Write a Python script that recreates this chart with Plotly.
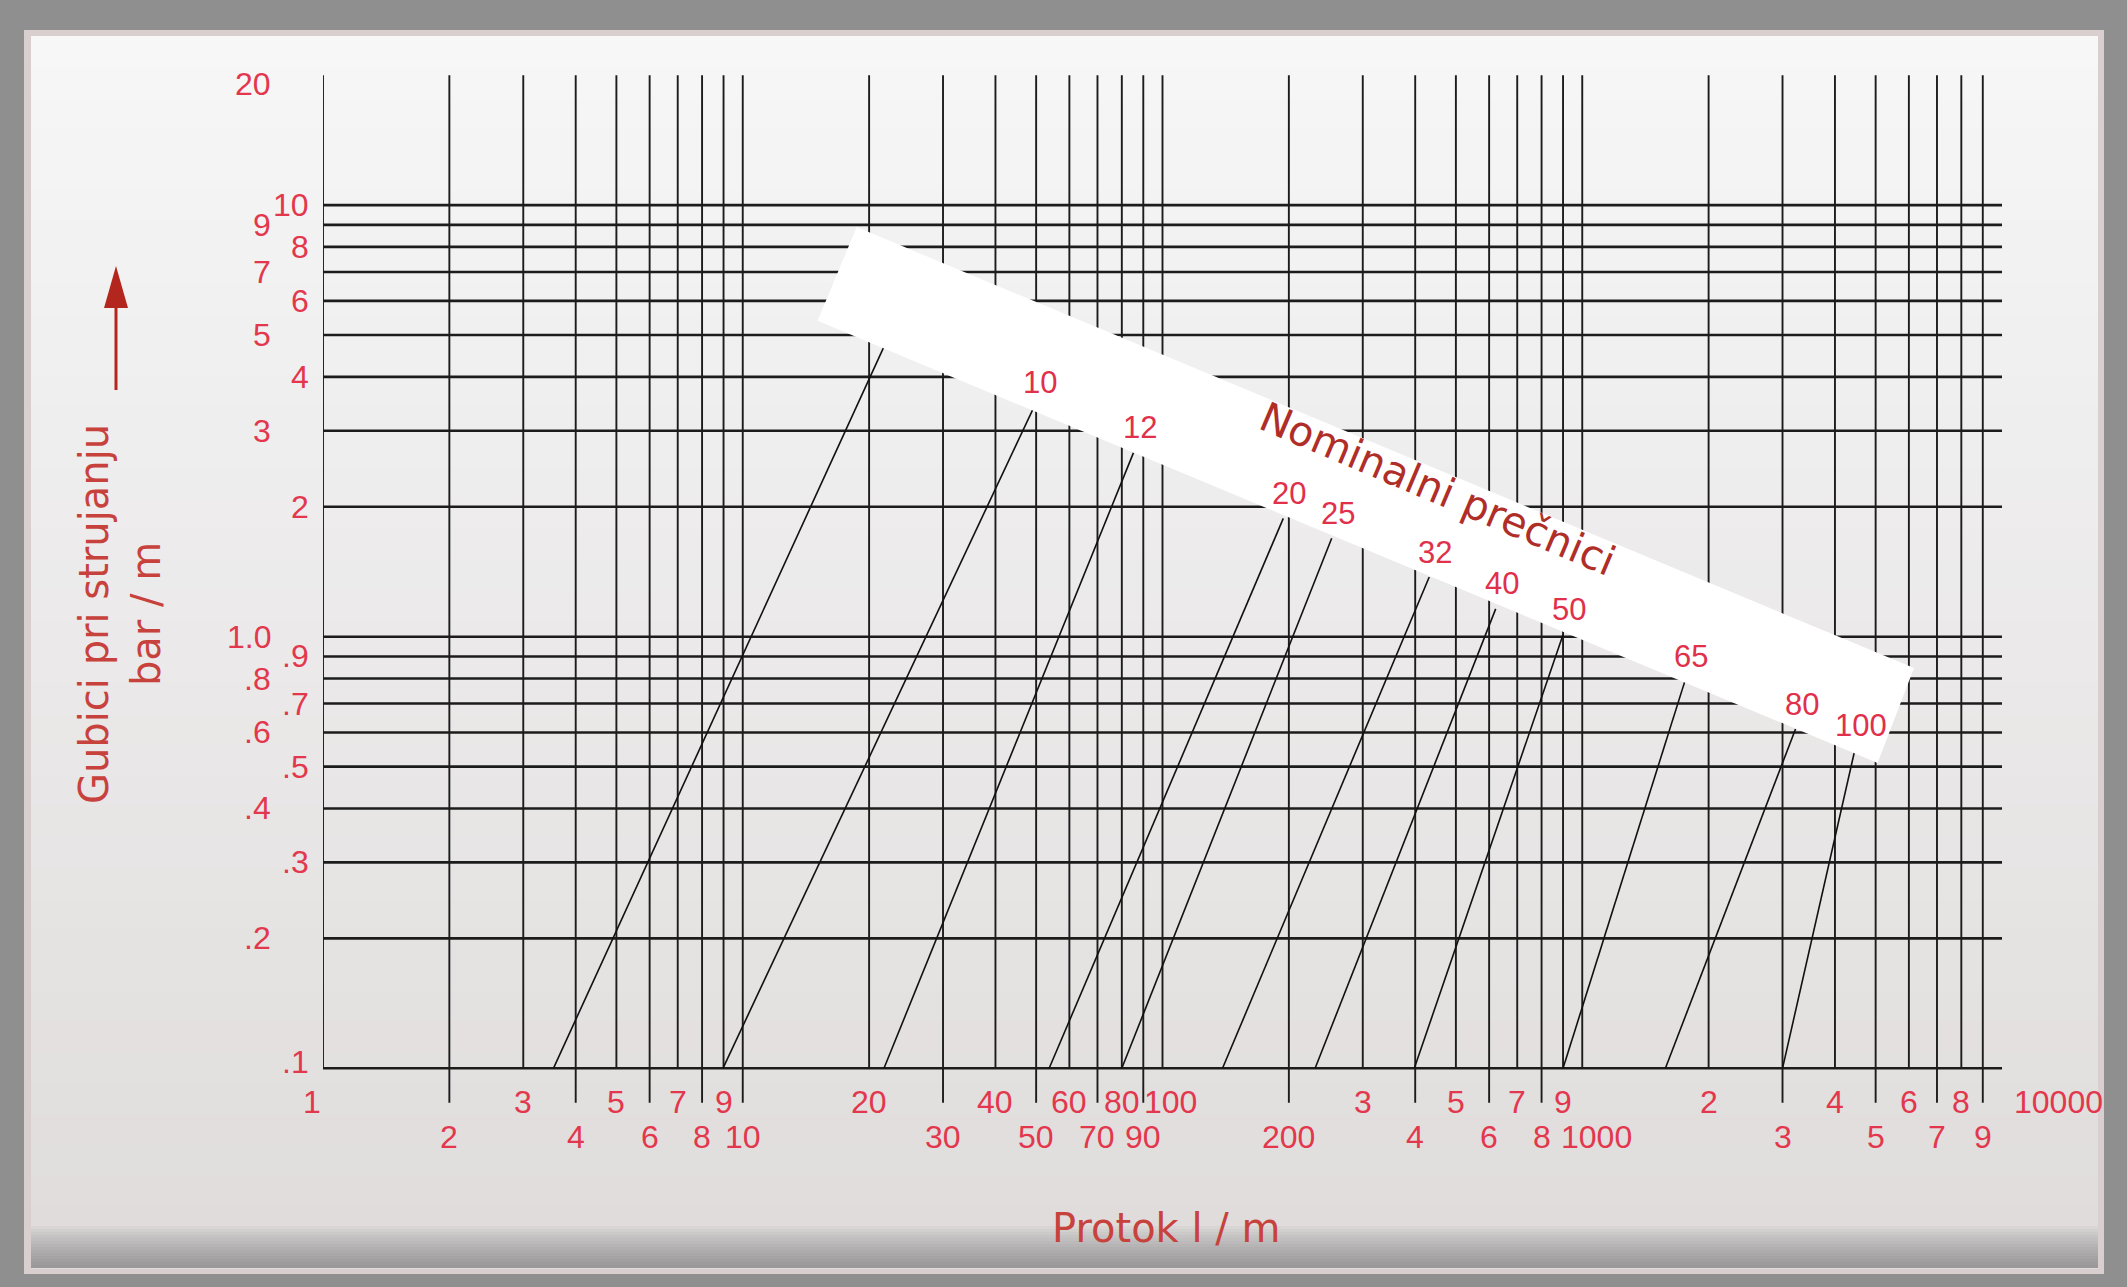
import numpy as np
import plotly.graph_objects as go

# ---------------- data ----------------
X_GRID = [1, 2, 3, 4, 5, 6, 7, 8, 9,
          10, 20, 30, 40, 50, 60, 70, 80, 90,
          100, 200, 300, 400, 500, 600, 700, 800, 900,
          1000, 2000, 3000, 4000, 5000, 6000, 7000, 8000, 9000]
Y_GRID = [0.1, 0.2, 0.3, 0.4, 0.5, 0.6, 0.7, 0.8, 0.9,
          1, 2, 3, 4, 5, 6, 7, 8, 9, 10]
X_TICK_EXTENDED = [2, 4, 6, 8, 10, 30, 50, 70, 90, 200, 400, 600, 800,
                   3000, 5000, 7000, 9000]

X_LABEL_VALUES = [1, 2, 3, 4, 5, 6, 7, 8, 9, 10, 20, 30, 40, 50, 60, 70, 80, 90,
                  100, 200, 300, 400, 500, 600, 700, 800, 900, 1000,
                  2000, 3000, 4000, 5000, 6000, 7000, 8000, 9000, 10000]
X_LABEL_TEXT = ["1", "2", "3", "4", "5", "6", "7", "8", "9", "10",
                "20", "30", "40", "50", "60", "70", "80", "90", "100",
                "200", "3", "4", "5", "6", "7", "8", "9", "1000",
                "2", "3", "4", "5", "6", "7", "8", "9", "10000"]

Y_LABEL_VALUES = [0.1, 0.2, 0.3, 0.4, 0.5, 0.6, 0.7, 0.8, 0.9,
                  1, 2, 3, 4, 5, 6, 7, 8, 9, 10, 20]
Y_LABEL_TEXT = [".1", ".2", ".3", ".4", ".5", ".6", ".7", ".8", ".9",
                "1.0", "2", "3", "4", "5", "6", "7", "8", "9", "10", "20"]

# nominal diameter lines (flow l/m vs loss bar/m)
DN_LABELS = ["", "10", "12", "20", "25", "32", "40", "50", "65", "80", "100"]
FLOW_START = [3.54, 8.97, 21.7, 53.7, 80, 139, 231, 398, 900, 1578, 3000]
LOSS_START = [0.1, 0.1, 0.1, 0.1, 0.1, 0.1, 0.1, 0.1, 0.1, 0.1, 0.1]
FLOW_END = [21.7, 49.3, 85.3, 194, 253, 432, 622, 900, 1756, 3222, 4458]
LOSS_END = [4.70, 3.39, 2.67, 1.88, 1.69, 1.375, 1.16, 1.01, 0.789, 0.611, 0.545]

# ---------------- layout geometry ----------------
W, H = 2127, 1287
ML, MR, MT, MB = 323, 125, 73, 182
PW, PH = W - ML - MR, H - MT - MB
X_RANGE = [0, 4]
Y_RANGE = [-1.085, 1.306]
Y_TICK_END = 10 ** (-1.08)


def pxx(x):
    return (x - ML) / PW


def pxy(y):
    return (H - MB - y) / PH


TICK_FONT = dict(family="Liberation Sans, Arial, sans-serif", size=32, color="#e3374d")
TITLE_FONT = dict(family="DejaVu Sans, Verdana, sans-serif", size=40, color="#c8423d")
GRID_COLOR = "#1c1c1c"

fig = go.Figure()

# vertical grid lines
vx, vy = [], []
for xv in X_GRID:
    y0 = Y_TICK_END if xv in X_TICK_EXTENDED else Y_GRID[0]
    vx += [xv, xv, None]
    vy += [y0, Y_LABEL_VALUES[-1], None]
fig.add_trace(go.Scatter(x=vx, y=vy, mode="lines",
                         line=dict(color=GRID_COLOR, width=1.9),
                         hoverinfo="skip", showlegend=False))

# horizontal grid lines
hx, hy = [], []
for yv in Y_GRID:
    hx += [X_GRID[0], X_LABEL_VALUES[-1], None]
    hy += [yv, yv, None]
fig.add_trace(go.Scatter(x=hx, y=hy, mode="lines",
                         line=dict(color=GRID_COLOR, width=2.6),
                         hoverinfo="skip", showlegend=False))

# diameter lines
for lab, x0, y0, x1, y1 in zip(DN_LABELS, FLOW_START, LOSS_START, FLOW_END, LOSS_END):
    fig.add_trace(go.Scatter(x=[x0, x1], y=[y0, y1], mode="lines",
                             name=("DN " + lab) if lab else "DN",
                             line=dict(color="#111111", width=1.6),
                             showlegend=False))

annotations = []

# x tick labels (two staggered rows)
X_SHIFT = {1: -11, 100: 8, 1000: 14, 10000: 56}
for i, (v, t) in enumerate(zip(X_LABEL_VALUES, X_LABEL_TEXT)):
    row = i % 2
    annotations.append(dict(x=np.log10(v), xref="x", y=pxy(1102 if row == 0 else 1137),
                            yref="paper", text=t, showarrow=False, xanchor="center",
                            yanchor="middle", xshift=X_SHIFT.get(v, 0), font=TICK_FONT))

# y tick labels (two staggered columns)
for i, (v, t) in enumerate(zip(Y_LABEL_VALUES, Y_LABEL_TEXT)):
    col = i % 2
    ys = 0
    if i == 0:
        ys = 6
    if i == len(Y_LABEL_VALUES) - 1:
        ys = -9
    annotations.append(dict(x=0, xref="paper", y=np.log10(v), yref="y", text=t,
                            showarrow=False, xanchor="right", yanchor="middle",
                            xshift=-12 if col == 0 else -50, yshift=ys, font=TICK_FONT))

# diameter labels on the band
for lab, x1, y1 in zip(DN_LABELS, FLOW_END, LOSS_END):
    if lab:
        annotations.append(dict(x=np.log10(x1), y=np.log10(y1), xref="x", yref="y",
                                text=lab, showarrow=False, xanchor="center",
                                yanchor="middle", xshift=6, yshift=25,
                                font=dict(family=TICK_FONT["family"], size=31,
                                          color="#e0304a")))

annotations.append(dict(x=pxx(1437), y=pxy(489), xref="paper", yref="paper",
                        text="Nominalni prečnici", showarrow=False, textangle=23,
                        xanchor="center", yanchor="middle",
                        font=dict(family="DejaVu Sans, Verdana, sans-serif", size=41,
                                  color="#b02e28")))

annotations.append(dict(x=pxx(1166), y=pxy(1228), xref="paper", yref="paper",
                        text="Protok l / m", showarrow=False, xanchor="center",
                        yanchor="middle", font=TITLE_FONT))
annotations.append(dict(x=pxx(120), y=pxy(614), xref="paper", yref="paper",
                        text="Gubici pri strujanju<br>bar / m", showarrow=False,
                        textangle=-90, xanchor="center", yanchor="middle",
                        font=TITLE_FONT))

shapes = []
# background panel with gentle vertical gradient
shapes.append(dict(type="rect", xref="paper", yref="paper",
                   x0=pxx(24), x1=pxx(2104), y0=pxy(30), y1=pxy(1274),
                   fillcolor="#d9cfcf", line=dict(width=0), layer="below"))
n_bands = 40
top_c = np.array([247, 247, 247])
bot_c = np.array([224, 220, 220])
y_top, y_bot = 36, 1268
for k in range(n_bands):
    f = k / (n_bands - 1)
    c = (top_c * (1 - f) + bot_c * f).astype(int)
    ya = y_top + (y_bot - y_top) * k / n_bands
    yb = y_top + (y_bot - y_top) * (k + 1) / n_bands + 1
    shapes.append(dict(type="rect", xref="paper", yref="paper",
                       x0=pxx(31), x1=pxx(2098), y0=pxy(yb), y1=pxy(ya),
                       fillcolor="rgb(%d,%d,%d)" % tuple(c), line=dict(width=0),
                       layer="below"))
# bottom shadow (smooth)
for k in range(14):
    shapes.append(dict(type="rect", xref="paper", yref="paper",
                       x0=pxx(31), x1=pxx(2098), y0=pxy(1268), y1=pxy(1226 + k * 3),
                       fillcolor="rgba(100,100,100,0.05)", line=dict(width=0),
                       layer="below"))

# white band with diameters
band = [(856.7, 227.1), (1914.0, 668.1), (1877.6, 762.9), (817.6, 320.8)]
path = "M " + " L ".join("%.5f,%.5f" % (pxx(a), pxy(b)) for a, b in band) + " Z"
shapes.append(dict(type="path", xref="paper", yref="paper", path=path,
                   fillcolor="#ffffff", line=dict(width=0), layer="above"))

# arrow next to y title
shapes.append(dict(type="line", xref="paper", yref="paper",
                   x0=pxx(116), x1=pxx(116), y0=pxy(390), y1=pxy(300),
                   line=dict(color="#b3261e", width=3)))
shapes.append(dict(type="path", xref="paper", yref="paper",
                   path="M %.5f,%.5f L %.5f,%.5f L %.5f,%.5f Z" % (
                       pxx(116), pxy(266), pxx(104), pxy(308), pxx(128), pxy(308)),
                   fillcolor="#b3261e", line=dict(width=0)))

fig.update_layout(
    width=W, height=H,
    margin=dict(l=ML, r=MR, t=MT, b=MB, pad=0),
    paper_bgcolor="#8f8f8f",
    plot_bgcolor="rgba(0,0,0,0)",
    xaxis=dict(type="log", range=X_RANGE, showgrid=False, zeroline=False,
               showline=False, showticklabels=False, ticks=""),
    yaxis=dict(type="log", range=Y_RANGE, showgrid=False, zeroline=False,
               showline=False, showticklabels=False, ticks=""),
    annotations=annotations,
    shapes=shapes,
    showlegend=False,
)

fig.write_html("out.html",
               config={"displayModeBar": False},
               post_script="document.body.style.margin='0px';"
                           "document.body.style.overflow='hidden';")
